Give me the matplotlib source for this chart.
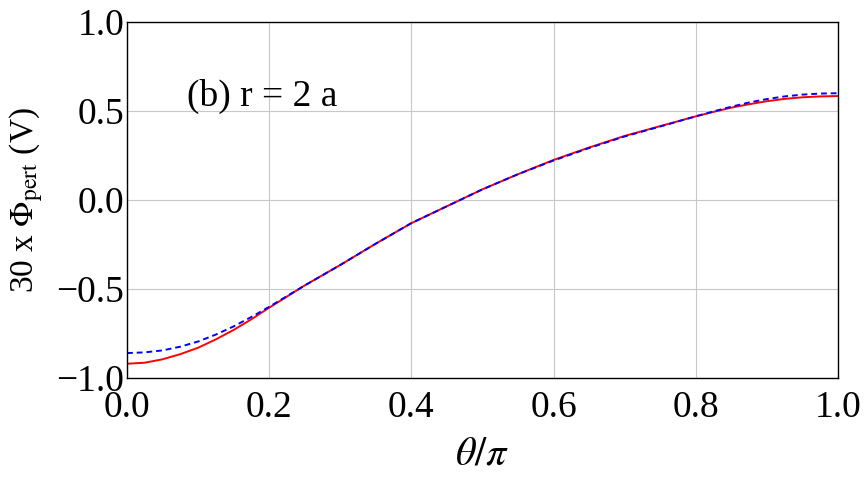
import numpy as np
import matplotlib.pyplot as plt
from matplotlib.ticker import FuncFormatter

plt.rcParams['font.family'] = ['Liberation Serif', 'DejaVu Serif']
plt.rcParams['mathtext.fontset'] = 'stix'

# theta / pi sample points
theta = [0.0, 0.025, 0.05, 0.075, 0.1, 0.125, 0.15, 0.175, 0.2, 0.25, 0.3, 0.35, 0.4, 0.45, 0.5,
         0.55, 0.6, 0.65, 0.7, 0.75, 0.8, 0.825, 0.85, 0.875, 0.9, 0.925, 0.95, 0.975, 1.0]
# red solid curve
phi_red = [-0.92, -0.914, -0.895, -0.866, -0.83, -0.783, -0.73, -0.67, -0.605, -0.48, -0.365,
           -0.245, -0.13, -0.035, 0.06, 0.145, 0.225, 0.295, 0.36, 0.415, 0.47, 0.495, 0.519,
           0.538, 0.555, 0.568, 0.577, 0.582, 0.584]
# blue dashed curve
phi_blue = [-0.86, -0.856, -0.845, -0.824, -0.795, -0.756, -0.71, -0.657, -0.60, -0.48, -0.365,
            -0.245, -0.13, -0.035, 0.06, 0.145, 0.222, 0.292, 0.357, 0.413, 0.47, 0.498, 0.524,
            0.548, 0.567, 0.582, 0.592, 0.598, 0.60]

fig = plt.figure(figsize=(8.64, 4.78), dpi=100)
ax = fig.add_axes([127/864, 1-378/478, (838-127)/864, (378-22)/478])

ax.plot(theta, phi_red, color='red', lw=1.4)
ax.plot(theta, phi_blue, color='blue', lw=1.4, ls=(0, (3, 2)))

def fmt(v, pos):
    return ('%.1f' % v).replace('-', '\u2212')

ax.set_xlim(0, 1)
ax.set_ylim(-1, 1)
ax.set_xticks(np.arange(0, 1.01, 0.2))
ax.set_yticks([-1.0, -0.5, 0.0, 0.5, 1.0])
ax.xaxis.set_major_formatter(FuncFormatter(fmt))
ax.yaxis.set_major_formatter(FuncFormatter(fmt))
ax.tick_params(length=0, labelsize=27)
ax.tick_params(axis='x', pad=9)
ax.tick_params(axis='y', pad=2)
ax.grid(True, color='#c8c8c8', lw=0.8)
for s in ax.spines.values():
    s.set_color('black')
    s.set_linewidth(1.0)

ax.set_xlabel(r'$\theta/\pi$', fontsize=29, labelpad=8)
ax.set_ylabel(r'30 x $\Phi_{\rm pert}$ (V)', fontsize=24, labelpad=8)
ax.text(0.085, 0.765, '(b) r = 2 a', transform=ax.transAxes, fontsize=27)

fig.savefig('out.png', dpi=100)
